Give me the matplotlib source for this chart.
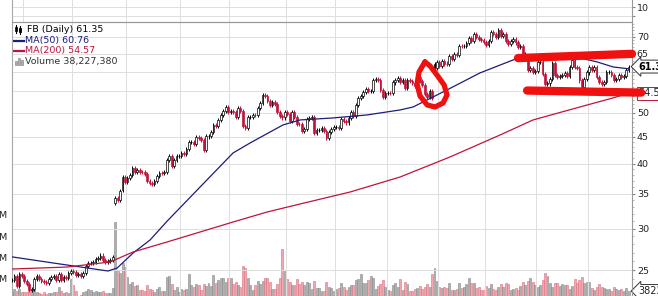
import numpy as np
import matplotlib.pyplot as plt
from matplotlib.lines import Line2D
from matplotlib.patches import Rectangle
from matplotlib.transforms import blended_transform_factory

# daily closes, 24 May 2013 .. 23 May 2014
closes = [
    23.90, 24.31, 23.32, 24.55, 24.35,
    23.85, 23.52, 22.90, 22.97, 24.03, 24.33, 24.03, 23.77, 23.73, 23.63,
    24.02, 24.21, 24.31, 23.90, 24.53, 23.94, 24.25, 24.16, 24.66, 24.88,
    24.81, 24.41, 24.52, 24.37, 24.71, 25.48, 25.80, 25.81, 25.91, 26.28, 26.32,
    26.65, 26.18, 25.88, 26.05, 26.13, 26.51, 34.36, 34.01, 35.43, 37.63, 36.80,
    37.49, 38.05, 39.19, 38.55, 38.87, 38.54, 38.50, 38.22, 37.02, 36.65, 36.56,
    37.08, 37.81, 38.41, 38.32, 38.55, 40.55, 41.34, 39.64, 40.55, 41.28, 41.29,
    41.87, 41.78, 42.66, 43.95, 44.04, 43.60, 45.04, 44.75, 44.31, 42.51,
    45.07, 45.23, 45.98, 47.49, 47.19, 48.45, 49.46, 50.39, 51.24, 50.23,
    50.42, 50.28, 49.18, 51.04, 50.52, 47.14, 46.77, 49.05, 49.11, 49.51, 49.50, 51.14,
    52.21, 54.22, 53.85, 52.68, 51.90, 52.45, 51.95, 50.23, 49.40, 49.01, 50.21,
    49.75, 48.22, 50.11, 49.12, 47.56, 47.53, 46.20, 46.61, 48.71, 48.99,
    49.01, 45.83, 46.36, 46.43, 46.70, 46.23, 44.82, 45.89, 46.49, 47.01,
    47.06, 46.73, 48.62, 48.34, 47.94, 48.84, 50.25, 49.38, 51.83, 53.32, 53.81,
    54.86, 55.57, 55.05, 55.12, 57.77, 57.96, 57.73, 55.44, 53.71, 54.65,
    54.71, 54.56, 57.20, 57.92, 58.23, 57.22, 57.94, 55.91, 57.74, 57.60, 57.19,
    56.30, 58.51, 57.51, 56.63, 54.45, 53.55, 55.14, 53.53, 61.08, 62.57,
    61.48, 62.75, 62.19, 62.16, 64.32, 63.55, 64.85, 64.45, 67.33, 67.09,
    67.30, 68.06, 69.63, 68.59, 70.78, 69.85, 69.26, 68.94, 68.46,
    67.41, 68.80, 71.57, 70.84, 69.80, 72.03, 70.10, 70.88, 68.83, 67.72, 68.74,
    69.19, 68.24, 66.97, 67.24, 64.10, 64.89, 60.39, 60.97, 60.01, 60.24,
    62.62, 62.72, 59.49, 56.75, 56.95, 58.19, 62.41, 59.16, 58.53, 58.89, 59.09,
    59.72, 58.94, 61.24, 63.03, 61.36, 60.87, 57.71, 56.14, 58.15, 59.78,
    61.15, 60.46, 61.22, 58.53, 57.39, 56.76, 57.24, 59.83, 59.83,
    59.23, 57.92, 58.02, 59.21, 58.56, 58.80, 60.49, 61.35,
]
# sessions that opened away from the prior close (bar index: open)
gap_opens = {42: 33.54, 45: 35.65, 172: 62.12, 210: 64.20}

# daily volume, millions
volumes = [
    34, 46, 38, 50, 35,
    35, 32, 40, 44, 41, 34, 29, 26, 31, 26, 29, 30, 31, 35, 58, 38, 27, 33, 30, 97,
    69, 38, 15, 20, 33, 40, 47, 44, 34, 40, 31, 31, 37, 30, 28, 29, 53, 365, 136, 124, 173, 154,
    106, 73, 82, 64, 68, 41, 43, 40, 65, 48, 45, 33, 49, 55, 37, 40, 106, 110, 72, 44, 58, 35,
    48, 43, 50, 117, 68, 59, 72, 65, 43, 70, 63, 78, 63, 116, 75, 90, 98, 98, 82, 101,
    100, 71, 79, 69, 58, 155, 146, 100, 66, 42, 65, 88, 71, 87, 99, 101, 80, 48, 46, 72, 102, 240, 131,
    95, 80, 67, 68, 97, 70, 80, 68, 79, 75, 46, 85, 52, 53, 39, 37, 82, 59, 52, 37,
    48, 54, 78, 59, 42, 55, 68, 65, 92, 97, 118, 76, 77, 91, 110, 98, 46, 63, 71, 92, 56,
    44, 38, 68, 77, 56, 93, 43, 83, 70, 40, 38, 48, 54, 61, 48, 56, 71, 56, 118, 150, 86,
    58, 54, 56, 51, 76, 42, 45, 46, 74, 51, 55, 72, 101, 75, 77, 53, 56, 41, 45,
    61, 53, 71, 48, 44, 55, 72, 56, 74, 72, 43, 48, 51, 45, 63, 80, 68, 88, 102, 81, 65,
    55, 66, 91, 125, 108, 76, 55, 78, 74, 60, 70, 66, 69, 49, 60, 96, 75, 92, 107, 75, 81,
    82, 54, 43, 55, 71, 57, 53, 48, 49, 40, 56, 47, 43, 47, 39, 54, 38,
]

# bar index of first session of Jun 2013 .. May 2014
month_starts = [5, 25, 47, 69, 89, 112, 132, 153, 174, 193, 214, 235]

ma50_x = [0, 19.6, 39.1, 42.8, 49.3, 56.2, 63.1, 76.6, 90.0, 96.9, 110.3, 117.3,
          130.7, 144.5, 158.0, 163.3, 177.1, 190.5, 204.0, 208.0, 220.2, 231.2, 238.2,
          244.7, 251]
ma50_y = [26.49, 25.67, 24.89, 25.22, 26.95, 28.54, 31.0, 36.07, 41.91, 43.79,
          47.42, 48.48, 48.91, 49.56, 50.67, 51.34, 55.35, 59.66, 63.18, 64.03, 64.59,
          63.74, 62.63, 61.26, 60.76]
ma200_x = [0, 22.4, 39.9, 49.3, 63.1, 76.6, 90.0, 103.8, 117.3, 137.6, 158.0, 178.3,
           198.7, 212.1, 231.2, 244.7, 251]
ma200_y = [25.11, 25.33, 25.90, 27.07, 28.29, 29.57, 30.90, 32.29, 33.46, 35.27, 37.69,
           41.17, 45.37, 48.48, 51.34, 53.43, 54.57]

price_ticks = [25, 30, 35, 40, 45, 50, 55, 60, 65, 70]
price_labels = ['25', '30', '35', '40', '45', '50', '', '', '65', '70']
vol_ticks = [100, 200, 300, 400]
vol_labels = ['100M', '200M', '300M', '400M']

# red marker strokes drawn over the chart (bar index, price)
top_band_x, top_band_y = [206.0, 252.4], [63.7, 64.9]
low_band_x, low_band_y = [209.7, 256.1], [55.2, 54.7]
loop_x = [168.1, 165.7, 164.9, 166.1, 169.0, 172.2, 175.5, 177.1, 175.9, 173.0, 170.2, 168.1]
loop_y = [62.63, 59.93, 56.83, 53.90, 51.80, 51.34, 52.26, 54.14, 56.58, 59.13, 61.53, 62.63]

navy = '#1c1c7c'
crimson = '#c0143c'
gridc = '#dedede'
framec = '#a8a8a8'

W, H = 658, 296
def fx(px):
    return px / W
def fy(py):
    return 1 - py / H

x0, x1, split = 12, 632, 22
xlim = (0.0, 252.4)

fig = plt.figure(figsize=(W / 100, H / 100), dpi=100)
rect = [fx(x0), 0, fx(x1) - fx(x0), fy(split)]
vax = fig.add_axes(rect)
ax = fig.add_axes(rect)
tp = fig.add_axes([fx(x0), fy(split), fx(x1) - fx(x0), 1 - fy(split)])
ax.set_zorder(2)
ax.patch.set_visible(False)

idx = np.arange(len(closes))
c = np.array(closes)
o = np.concatenate([[c[0]], c[:-1]])
for k, v in gap_opens.items():
    o[k] = v
prev = np.concatenate([[c[0]], c[:-1]])
up = c >= prev
hollow = c >= o
lo = np.minimum(o, c)
hi = np.maximum(o, c)
body = np.maximum(hi - lo, 0.02)
wick = 0.009

# volume
vfill = np.where(up, '#b0b0b0', '#f2a6b0')
vedge = np.where(up, '#888888', '#d8707e')
vax.bar(idx, volumes, width=0.8, color=vfill, edgecolor=vedge, linewidth=0.4)
vax.set_xlim(*xlim)
vax.set_ylim(14.3, 1319)
vax.set_yticks(vol_ticks)
vax.set_yticklabels(vol_labels)
vax.tick_params(axis='y', length=0, pad=3, labelsize=6.8, labelcolor='#222222')
vax.set_xticks([])
for s in vax.spines.values():
    s.set_visible(False)

# price
ax.set_yscale('log')
ax.set_xlim(*xlim)
ax.set_ylim(22.29, 74.7)
cedge = np.where(up, 'black', crimson)
cfill = np.where(hollow, 'white', cedge)
ax.vlines(idx, lo * (1 - wick), hi * (1 + wick), colors=cedge, linewidth=0.7, zorder=3)
ax.bar(idx, body, bottom=lo, width=0.7, color=cfill, edgecolor=cedge,
       linewidth=0.5, zorder=4)
ax.plot(ma50_x, ma50_y, color=navy, lw=0.9, zorder=5)
ax.plot(ma200_x, ma200_y, color=crimson, lw=0.9, zorder=5)

ax.yaxis.tick_right()
ax.set_yticks(price_ticks)
ax.set_yticklabels(price_labels)
ax.set_yticks(np.arange(23, 75), minor=True)
ax.yaxis.set_minor_formatter(plt.NullFormatter())
ax.tick_params(axis='y', which='major', length=2, pad=1.5, color='#888888',
               labelsize=6.8, labelcolor='#222222')
ax.tick_params(axis='y', which='minor', length=1.2, color='#aaaaaa')
ax.set_xticks([m - 0.5 for m in month_starts[1:]])
ax.tick_params(axis='x', length=0, labelbottom=False)
ax.grid(True, color=gridc, lw=0.7, zorder=0)
ax.spines['bottom'].set_visible(False)
ax.spines['left'].set_color(framec)
ax.spines['right'].set_color('#999999')
ax.spines['top'].set_color('#999999')

# red marker strokes
ax.plot(top_band_x, top_band_y, color='#f01010', lw=6, solid_capstyle='round',
        zorder=8, clip_on=False)
ax.plot(low_band_x, low_band_y, color='#f01010', lw=6, solid_capstyle='round',
        zorder=8, clip_on=False)
ax.plot(loop_x, loop_y, color='#f01010', lw=3.8, solid_capstyle='round',
        solid_joinstyle='round', zorder=8)

# last-value tags
tr = blended_transform_factory(ax.transAxes, ax.transData)
ax.text(1.0 + 6 / 620, ma50_y[-1] + 0.6, f'{closes[-1]:.2f}', transform=tr,
        fontsize=7, fontweight='bold', va='center', ha='left', zorder=9,
        bbox=dict(boxstyle='larrow,pad=0.15', fc='white', ec='#333333', lw=0.7))
ax.text(1.0 + 6 / 620, ma200_y[-1], f'{ma200_y[-1]:.2f}', transform=tr,
        fontsize=7, va='center', ha='left', zorder=7, color='#222222',
        bbox=dict(boxstyle='square,pad=0.15', fc='white', ec=crimson, lw=0.7))
vtr = blended_transform_factory(vax.transAxes, vax.transData)
vax.text(1.0 + 6 / 620, volumes[-1], '38227380', transform=vtr, fontsize=7,
         va='center', ha='left', color='#222222', clip_on=False,
         bbox=dict(boxstyle='larrow,pad=0.15', fc='white', ec='#333333', lw=0.7))

# upper indicator strip (cut off)
tp.set_xlim(*xlim)
tp.set_ylim(1.67, 13.9)
tp.yaxis.tick_right()
tp.set_yticks([5, 10])
tp.set_yticklabels(['', '10'])
tp.tick_params(axis='y', length=2, pad=1.5, color='#888888', labelsize=6.8,
               labelcolor='#222222')
tp.set_xticks([m - 0.5 for m in month_starts])
tp.tick_params(axis='x', length=0, labelbottom=False)
tp.grid(True, color=gridc, lw=0.7)
tp.spines['top'].set_visible(False)
tp.spines['bottom'].set_color('#999999')
tp.spines['left'].set_color(framec)
tp.spines['right'].set_color('#999999')

# legend block
fs = 6.8
fig.add_artist(Line2D([fx(16), fx(16)], [fy(25), fy(33)], color='black', lw=0.8))
fig.add_artist(Rectangle((fx(15), fy(31)), fx(2), 4 / H, fc='white', ec='black', lw=0.6))
fig.add_artist(Line2D([fx(20), fx(20)], [fy(26), fy(34)], color='black', lw=0.8))
fig.add_artist(Rectangle((fx(19), fy(32)), fx(2), 4 / H, fc='black', ec='black', lw=0.6))
fig.text(fx(27), fy(29), f'FB (Daily) {closes[-1]:.2f}', fontsize=fs, va='center',
         color='black')
fig.add_artist(Line2D([fx(14), fx(24)], [fy(40.5), fy(40.5)], color=navy, lw=1.6))
fig.text(fx(25), fy(40.5), f'MA(50) {ma50_y[-1]:.2f}', fontsize=fs, va='center', color=navy)
fig.add_artist(Line2D([fx(14), fx(24)], [fy(51), fy(51)], color=crimson, lw=1.6))
fig.text(fx(25), fy(51), f'MA(200) {ma200_y[-1]:.2f}', fontsize=fs, va='center',
         color=crimson)
for k, hgt in enumerate([4, 7, 5]):
    fig.add_artist(Rectangle((fx(15 + 3 * k), fy(65)), fx(2), hgt / H, fc='#b0b0b0',
                             ec='#777777', lw=0.4))
fig.text(fx(25), fy(61), 'Volume 38,227,380', fontsize=fs, va='center', color='#333333')

fig.savefig('out.png', dpi=100)
